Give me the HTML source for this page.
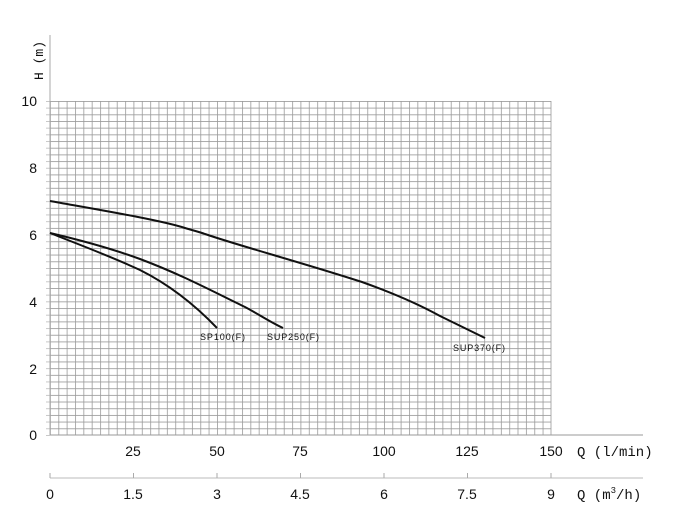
<!DOCTYPE html>
<html><head><meta charset="utf-8"><style>
body{margin:0;background:#fff;}
svg{display:block;font-family:"Liberation Sans","Noto Sans CJK JP",sans-serif;}
</style></head><body>
<svg width="690" height="514" viewBox="0 0 690 514">
<defs>
<pattern id="g" x="50" y="101" width="8.35" height="6.68" patternUnits="userSpaceOnUse">
<path d="M0.4,0 V6.68 M0,0.4 H8.35" stroke="#9a9a9a" stroke-width="0.8" fill="none"/>
</pattern>
<pattern id="t" x="46" y="101" width="4" height="6.68" patternUnits="userSpaceOnUse">
<path d="M0,0.4 H4" stroke="#bbb" stroke-width="0.8"/>
</pattern>
</defs>
<rect x="50" y="101" width="501" height="334" fill="url(#g)"/>
<line x1="551" y1="101" x2="551" y2="435" stroke="#9a9a9a" stroke-width="0.8"/>
<rect x="46" y="101" width="4" height="335" fill="url(#t)"/>
<line x1="50" y1="35" x2="50" y2="435" stroke="#aaa"/>
<line x1="50" y1="435" x2="643" y2="435" stroke="#999"/>
<line x1="50" y1="478" x2="643" y2="478" stroke="#bbb"/>
<g stroke="#aaa"><line x1="50" y1="473" x2="50" y2="478"/><line x1="133.5" y1="473" x2="133.5" y2="478"/><line x1="217" y1="473" x2="217" y2="478"/><line x1="300.5" y1="473" x2="300.5" y2="478"/><line x1="384" y1="473" x2="384" y2="478"/><line x1="467.5" y1="473" x2="467.5" y2="478"/><line x1="551" y1="473" x2="551" y2="478"/></g>
<g font-size="14" fill="#111" text-anchor="end">
<text x="37" y="106">10</text><text x="37" y="173">8</text><text x="37" y="240">6</text><text x="37" y="307">4</text><text x="37" y="374">2</text><text x="37" y="440">0</text>
</g>
<g font-size="14" fill="#111" text-anchor="middle">
<text x="133" y="456">25</text><text x="217" y="456">50</text><text x="300" y="456">75</text><text x="384" y="456">100</text><text x="467" y="456">125</text><text x="551" y="456">150</text>
<text x="50" y="499">0</text><text x="133" y="499">1.5</text><text x="217" y="499">3</text><text x="300" y="499">4.5</text><text x="384" y="499">6</text><text x="467" y="499">7.5</text><text x="551" y="499">9</text>
</g>
<text x="577" y="456" font-size="14" fill="#111" font-family="Liberation Mono, monospace">Q (l/min)</text>
<text x="577" y="499" font-size="14" fill="#111" font-family="Liberation Mono, monospace">Q (m<tspan font-size="9" dy="-6">3</tspan><tspan dy="6">/h)</tspan></text>
<text transform="translate(43,80) rotate(-90)" font-size="13" fill="#111" font-family="Liberation Mono, monospace">H (m)</text>
<g fill="none" stroke="#111" stroke-width="2" stroke-linejoin="round">
<path d="M50,201 C100,210 160,220 185,228 C195,231 200,232 205,234 C240,246 300,262 362,282 C390,292 420,305 440,316 L485,338"/>
<path d="M50,233 C80,240 110,248 140,259 C180,274 210,290 245,307 C260,315 270,322 283,328"/>
<path d="M50,233 C80,245 110,256 140,270 C170,285 195,305 217,328"/>
</g>
<g font-size="9" fill="#111">
<text x="200" y="340" textLength="45">SP100(F)</text><text x="267" y="340" textLength="52">SUP250(F)</text><text x="453" y="351" textLength="52">SUP370(F)</text>
</g>
</svg>
</body></html>
